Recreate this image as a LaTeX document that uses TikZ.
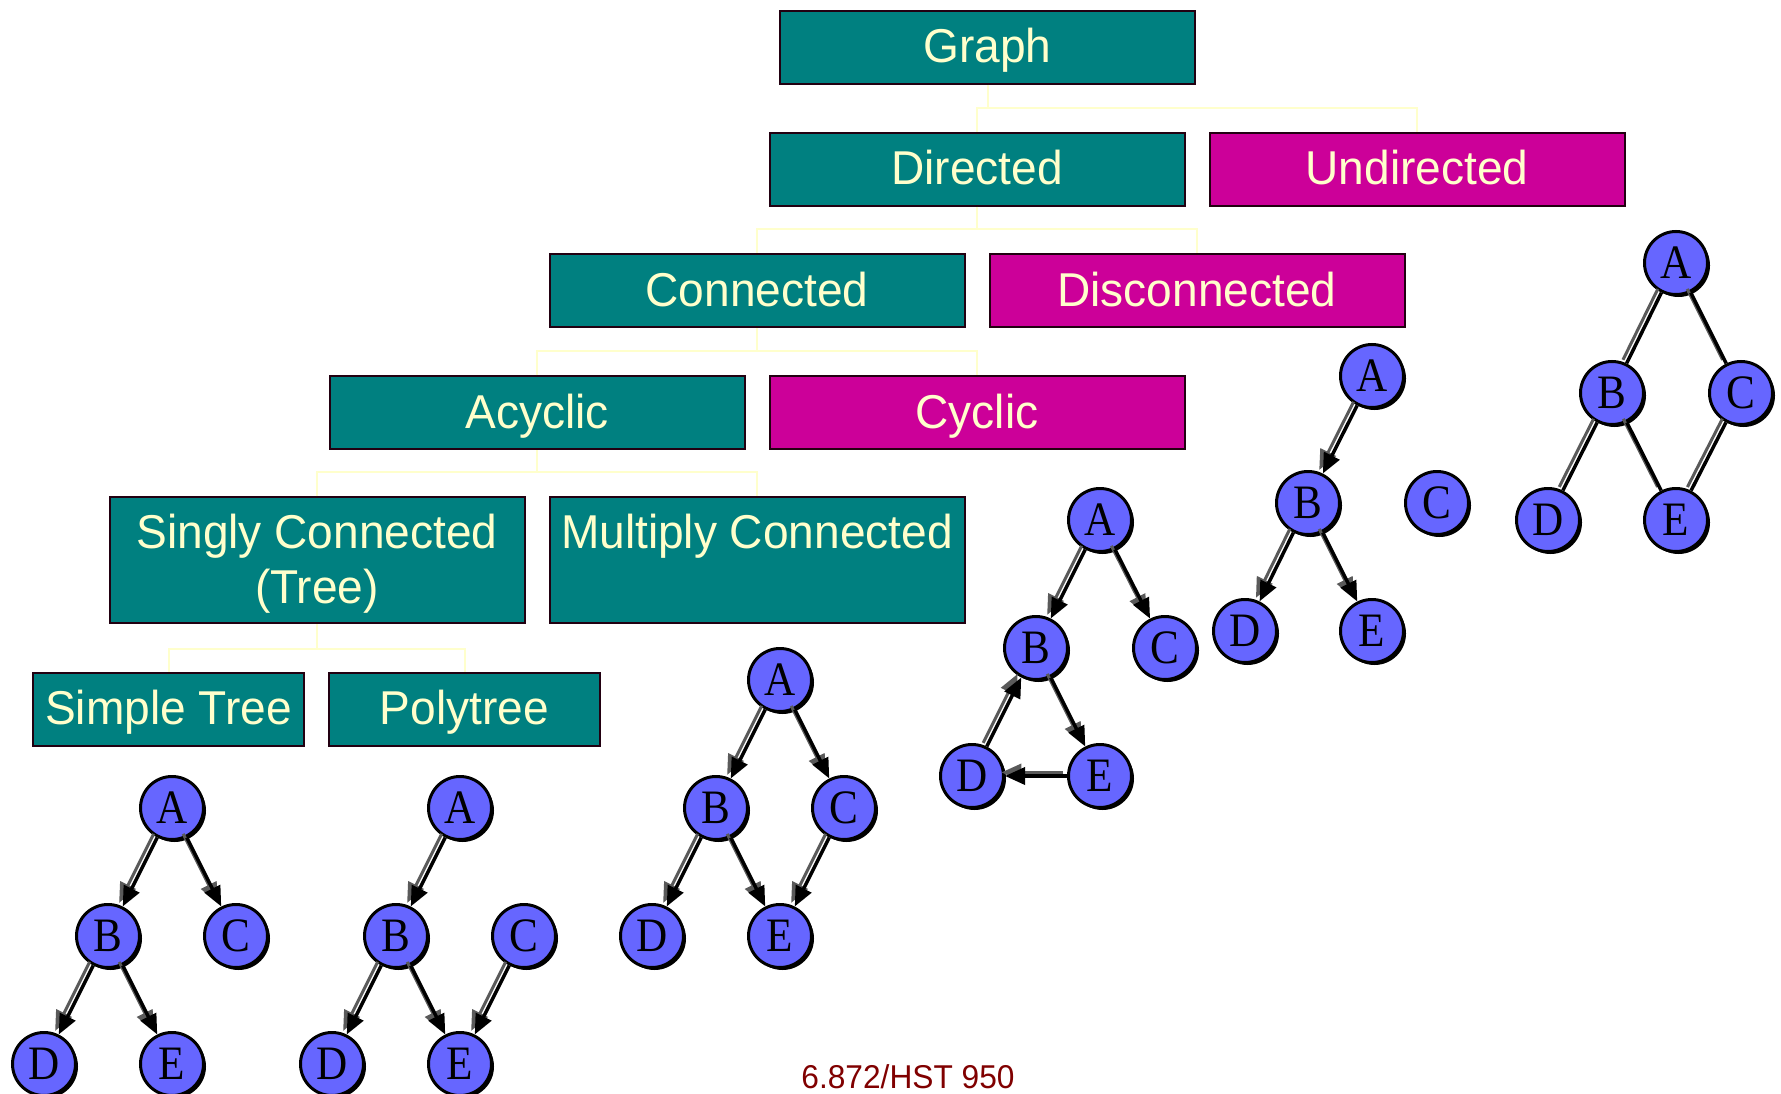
\documentclass[tikz,border=0pt]{standalone}
\usepackage{fontspec}
\setmainfont{Liberation Sans}
\newfontfamily\boxfont[FakeStretch=0.97]{Liberation Sans}
\newfontfamily\footfont[FakeStretch=0.96]{Liberation Sans}
\newfontfamily\letterfont[FakeStretch=0.9]{Liberation Serif}
\usetikzlibrary{arrows.meta,shadows}
\definecolor{tealfill}{HTML}{008080}
\definecolor{magfill}{HTML}{CC0099}
\definecolor{cream}{HTML}{FFFFCC}
\definecolor{vblue}{HTML}{6666FF}
\definecolor{footred}{HTML}{800000}
\definecolor{boxline}{HTML}{220011}
\definecolor{edgeshadow}{HTML}{5A5A5A}

% directed edge: grey offset shadow under a black arrow
\newcommand\dedge[2]{%
  \draw[edgeshade,-{Triangle[length=20pt,width=17pt]},transform canvas={xshift=-3.6pt,yshift=3.6pt}] (#1) -- (#2);
  \draw[edgeline,-{Triangle[length=20pt,width=17pt]}] (#1) -- (#2);}
% undirected edge
\newcommand\uedge[2]{%
  \draw[edgeshade,transform canvas={xshift=-3.6pt,yshift=3.6pt}] (#1) -- (#2);
  \draw[edgeline] (#1) -- (#2);}

\begin{document}
\begin{tikzpicture}[x=1pt,y=-1pt,
  catbox/.style={draw=boxline, line width=2pt, text=cream, align=center,
    font=\boxfont\fontsize{47.5}{55}\selectfont, minimum width=415pt,
    minimum height=73pt, inner sep=0pt, text height=38pt, text depth=7pt},
  smallbox/.style={minimum width=271pt},
  tallbox/.style={minimum height=126pt, text height=94pt, text depth=6.6pt},
  tealbox/.style={catbox, fill=tealfill},
  magbox/.style={catbox, fill=magfill},
  conn/.style={draw=cream, line width=2pt},
  vert/.style={circle, fill=vblue, draw=black, line width=3pt,
    minimum size=63pt, inner sep=0pt,
    font=\letterfont\fontsize{48}{48}\selectfont,
    drop shadow={shadow xshift=2.5pt, shadow yshift=-2.5pt, fill=black, opacity=1}},
  edgeline/.style={draw=black, line width=3.5pt},
  edgeshade/.style={draw=edgeshadow, line width=3pt},
]
\useasboundingbox (0,0) rectangle (1781,1094);

% ---------- taxonomy boxes ----------
\node[tealbox] (graph)  at (987.5,47.5) {Graph};
\node[tealbox] (dir)    at (977,169.5)  {Directed};
\node[magbox]  (undir)  at (1417,169.5) {Undirected};
\node[tealbox] (conn)   at (757,290.5)  {Connected};
\node[magbox]  (disc)   at (1197,290.5) {Disconnected};
\node[tealbox] (acyc)   at (537,412.5)  {Acyclic};
\node[magbox]  (cyc)    at (977,412.5)  {Cyclic};
\node[tealbox,tallbox] (single) at (317,560) {Singly Connected\\(Tree)};
\node[tealbox,tallbox] (multi)  at (757,560) {Multiply Connected\\\phantom{(Tree)}};
\node[tealbox,smallbox] (simple) at (168.5,709) {Simple Tree};
\node[tealbox,smallbox] (poly)   at (464.5,709) {Polytree};

% ---------- tree connectors ----------
\draw[conn] (graph.south) -- (graph.south |- 0,109);
\draw[conn] (dir.north) -- ++(0,-24) -| (undir.north);
\draw[conn] (dir.south) -- (dir.south |- 0,230);
\draw[conn] (conn.north) -- ++(0,-24) -| (disc.north);
\draw[conn] (conn.south) -- (conn.south |- 0,352);
\draw[conn] (acyc.north) -- ++(0,-24) -| (cyc.north);
\draw[conn] (acyc.south) -- (acyc.south |- 0,473);
\draw[conn] (single.north) -- ++(0,-24) -| (multi.north);
\draw[conn] (single.south) -- (single.south |- 0,649);
\draw[conn] (simple.north) -- ++(0,-23) -| (poly.north);

% ---------- simple tree ----------
\node[vert] (sA) at (172,808)  {A};
\node[vert] (sB) at (108,936)  {B};
\node[vert] (sC) at (236,936)  {C};
\node[vert] (sD) at (44,1064)  {D};
\node[vert] (sE) at (172,1064) {E};
\dedge{sA}{sB}
\dedge{sA}{sC}
\dedge{sB}{sD}
\dedge{sB}{sE}

% ---------- polytree ----------
\node[vert] (pA) at (460,808)  {A};
\node[vert] (pB) at (396,936)  {B};
\node[vert] (pC) at (524,936)  {C};
\node[vert] (pD) at (332,1064) {D};
\node[vert] (pE) at (460,1064) {E};
\dedge{pA}{pB}
\dedge{pB}{pD}
\dedge{pB}{pE}
\dedge{pC}{pE}

% ---------- multiply connected ----------
\node[vert] (mA) at (780,680) {A};
\node[vert] (mB) at (716,808) {B};
\node[vert] (mC) at (844,808) {C};
\node[vert] (mD) at (652,936) {D};
\node[vert] (mE) at (780,936) {E};
\dedge{mA}{mB}
\dedge{mA}{mC}
\dedge{mB}{mD}
\dedge{mB}{mE}
\dedge{mC}{mE}

% ---------- cyclic ----------
\node[vert] (cA) at (1100,520) {A};
\node[vert] (cB) at (1036,648) {B};
\node[vert] (cC) at (1165,648) {C};
\node[vert] (cD) at (972,776)  {D};
\node[vert] (cE) at (1100,776) {E};
\dedge{cA}{cB}
\dedge{cA}{cC}
\dedge{cB}{cE}
\dedge{cE}{cD}
\dedge{cD}{cB}

% ---------- disconnected ----------
\node[vert] (dA) at (1372,376) {A};
\node[vert] (dB) at (1308,503) {B};
\node[vert] (dC) at (1437,503) {C};
\node[vert] (dD) at (1245,631) {D};
\node[vert] (dE) at (1372,631) {E};
\dedge{dA}{dB}
\dedge{dB}{dD}
\dedge{dB}{dE}

% ---------- undirected ----------
\node[vert] (uA) at (1676,263) {A};
\node[vert] (uB) at (1612,393) {B};
\node[vert] (uC) at (1741,393) {C};
\node[vert] (uD) at (1548,520) {D};
\node[vert] (uE) at (1676,520) {E};
\uedge{uA}{uB}
\uedge{uA}{uC}
\uedge{uB}{uD}
\uedge{uB}{uE}
\uedge{uC}{uE}

% ---------- footer ----------
\node[font=\footfont\fontsize{33}{33}\selectfont, text=footred] (foot) at (908,1077) {6.872/HST 950};
\end{tikzpicture}
\end{document}
